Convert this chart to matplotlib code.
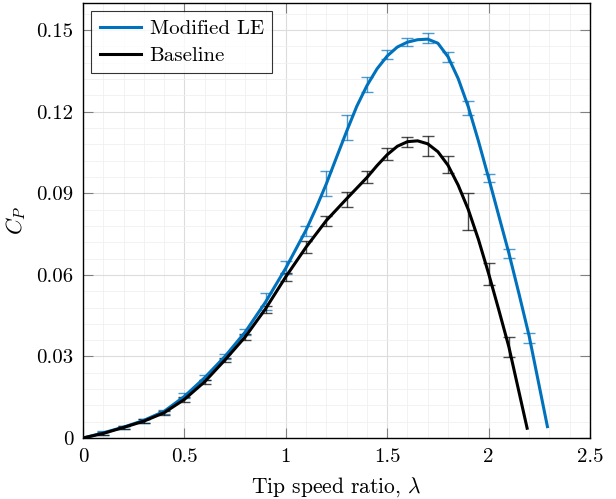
import numpy as np
import matplotlib.pyplot as plt
from matplotlib.ticker import MultipleLocator, FuncFormatter

# error bar points (tip speed ratio, mean Cp, half range)
tsr_mod = [0.1, 0.2, 0.3, 0.4, 0.5, 0.6, 0.7, 0.8, 0.9, 1.0, 1.1,
           1.2, 1.3, 1.4, 1.5, 1.6, 1.7, 1.8, 1.9, 2.0, 2.1, 2.2]
cp_mod = [0.0018, 0.0040, 0.0064, 0.0096, 0.0156, 0.0223, 0.0301, 0.0390,
          0.0503, 0.0628, 0.0760, 0.0936, 0.1142, 0.1301, 0.1410, 0.1457,
          0.1470, 0.1400, 0.1214, 0.0955, 0.0679, 0.0367]
err_mod = [0.0006, 0.0006, 0.0007, 0.0007, 0.0008, 0.0008, 0.0009, 0.0010,
           0.0032, 0.0023, 0.0018, 0.0047, 0.0046, 0.0027, 0.0017, 0.0015,
           0.0018, 0.0018, 0.0026, 0.0015, 0.0018, 0.0018]

tsr_base = [0.1, 0.2, 0.3, 0.4, 0.5, 0.6, 0.7, 0.8, 0.9, 1.0, 1.1,
            1.2, 1.3, 1.4, 1.5, 1.6, 1.7, 1.8, 1.9, 2.0, 2.1]
cp_base = [0.0017, 0.0039, 0.0062, 0.0093, 0.0142, 0.0207, 0.0287, 0.0372,
           0.0473, 0.0591, 0.0702, 0.0798, 0.0878, 0.0959, 0.1045, 0.1090,
           0.1074, 0.1005, 0.0832, 0.0602, 0.0335]
err_base = [0.0006, 0.0006, 0.0007, 0.0007, 0.0008, 0.0008, 0.0009, 0.0010,
            0.0012, 0.0015, 0.0022, 0.0019, 0.0027, 0.0022, 0.0022, 0.0018,
            0.0037, 0.0031, 0.0068, 0.0040, 0.0037]

# smooth fitted curves
x_mod_fit = [0, 0.1, 0.2, 0.3, 0.4, 0.5, 0.6, 0.7, 0.8, 0.9, 1.0, 1.1, 1.15,
             1.2, 1.25, 1.3, 1.35, 1.4, 1.45, 1.5, 1.55, 1.6, 1.65, 1.7,
             1.75, 1.8, 1.85, 1.9, 1.95, 2.0, 2.05, 2.1, 2.15, 2.2, 2.29]
y_mod_fit = [0, 0.0019, 0.0040, 0.0065, 0.0098, 0.0153, 0.0222, 0.0300,
             0.0390, 0.0500, 0.0625, 0.0765, 0.0847, 0.0935, 0.1032, 0.1128,
             0.1220, 0.1296, 0.1358, 0.1405, 0.1438, 0.1456, 0.1465, 0.1467,
             0.1452, 0.1402, 0.1322, 0.1218, 0.1092, 0.0957, 0.0818, 0.0680,
             0.0530, 0.0375, 0.0042]

x_base_fit = [0, 0.1, 0.2, 0.3, 0.4, 0.5, 0.6, 0.7, 0.8, 0.9, 1.0, 1.1, 1.2,
              1.3, 1.4, 1.45, 1.5, 1.55, 1.6, 1.65, 1.7, 1.75, 1.8, 1.85,
              1.9, 1.95, 2.0, 2.05, 2.1, 2.19]
y_base_fit = [0, 0.0017, 0.0039, 0.0062, 0.0093, 0.0142, 0.0207, 0.0287,
              0.0372, 0.0475, 0.0593, 0.0702, 0.0800, 0.0880, 0.0958, 0.1002,
              0.1042, 0.1073, 0.1090, 0.1093, 0.1082, 0.1053, 0.1003, 0.0930,
              0.0840, 0.0730, 0.0605, 0.0472, 0.0335, 0.0036]

plt.rcParams['font.family'] = 'cmr10'
plt.rcParams['mathtext.fontset'] = 'cm'
plt.rcParams['axes.formatter.use_mathtext'] = True

blue = '#0072BD'

fig = plt.figure(figsize=(6.16, 4.99), dpi=100)
ax = fig.add_axes([0.1347, 0.1222, 0.8231, 0.8718])

ax.errorbar(tsr_mod, cp_mod, yerr=err_mod, fmt='none', ecolor=blue,
            alpha=0.7, elinewidth=1.0, capsize=4.5, capthick=1.0, zorder=3)
ax.errorbar(tsr_base, cp_base, yerr=err_base, fmt='none', ecolor='black',
            alpha=0.7, elinewidth=1.0, capsize=4.5, capthick=1.0, zorder=3)
ax.plot(x_mod_fit, y_mod_fit, color=blue, lw=2.2, label='Modified LE', zorder=4)
ax.plot(x_base_fit, y_base_fit, color='black', lw=2.2, label='Baseline', zorder=4)

ax.set_xlim(0, 2.5)
ax.set_ylim(0, 0.16)
ax.xaxis.set_major_locator(MultipleLocator(0.5))
ax.xaxis.set_minor_locator(MultipleLocator(0.1))
ax.yaxis.set_major_locator(MultipleLocator(0.03))
ax.yaxis.set_minor_locator(MultipleLocator(0.006))
fmt = FuncFormatter(lambda v, p: '%g' % round(v, 4))
ax.xaxis.set_major_formatter(fmt)
ax.yaxis.set_major_formatter(fmt)

ax.grid(which='major', color='#dcdcdc', lw=0.8)
ax.grid(which='minor', color='#f0f0f0', lw=0.6)
ax.set_axisbelow(True)
ax.tick_params(which='major', direction='in', length=7, width=0.8,
               color='#808080', top=True, right=True, labelsize=15, pad=7)
ax.tick_params(which='minor', length=0)
for s in ax.spines.values():
    s.set_linewidth(1.0)

ax.set_xlabel(r'Tip speed ratio, $\lambda$', fontsize=15.5, labelpad=7)
ax.set_ylabel(r'$C_P$', fontsize=16, labelpad=6)

leg = ax.legend(loc='upper left', fontsize=15, frameon=True, fancybox=False,
                edgecolor='black', borderaxespad=0.4, handlelength=2.0,
                handletextpad=0.4, borderpad=0.4, labelspacing=0.4)
leg.get_frame().set_linewidth(0.8)

fig.savefig('out.png', dpi=100)
